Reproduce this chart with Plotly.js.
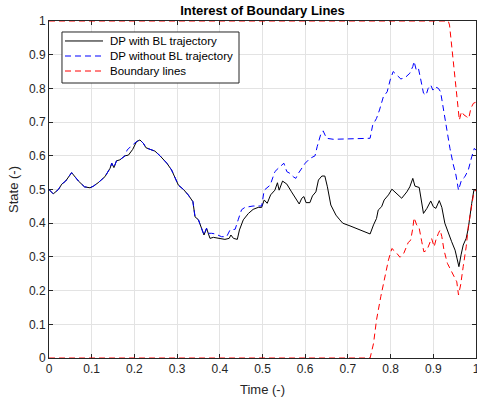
<!DOCTYPE html>
<html>
<head>
<meta charset="utf-8">
<script src="https://cdn.plot.ly/plotly-3.0.1.min.js"></script>
<style>html,body{margin:0;padding:0;background:#fff;}#chart{width:477px;height:403px;}</style>
</head>
<body>
<div id="chart"></div>
<script>
// Series: DP with BL trajectory
const timeBL = [0,0.01,0.022,0.03,0.039,0.053,0.069,0.083,0.096,0.104,0.115,0.131,0.143,0.147,0.152,0.158,0.166,0.178,0.186,0.196,0.205,0.213,0.221,0.227,0.237,0.248,0.26,0.276,0.287,0.295,0.303,0.315,0.326,0.337,0.342,0.35,0.358,0.363,0.369,0.373,0.377,0.385,0.396,0.412,0.422,0.426,0.432,0.441,0.446,0.455,0.467,0.478,0.49,0.498,0.504,0.511,0.519,0.529,0.535,0.539,0.547,0.557,0.568,0.578,0.586,0.592,0.597,0.602,0.611,0.617,0.625,0.631,0.639,0.646,0.652,0.66,0.672,0.681,0.688,0.705,0.728,0.752,0.76,0.767,0.771,0.779,0.785,0.795,0.803,0.814,0.826,0.838,0.845,0.852,0.857,0.867,0.873,0.877,0.885,0.894,0.9,0.906,0.914,0.92,0.927,0.935,0.943,0.951,0.956,0.96,0.965,0.97,0.977,0.982,0.99,0.995,1.0];
const stateBL = [0.5,0.487,0.5,0.516,0.525,0.55,0.525,0.508,0.505,0.51,0.52,0.538,0.563,0.578,0.565,0.585,0.588,0.6,0.602,0.619,0.642,0.647,0.637,0.624,0.619,0.614,0.6,0.578,0.558,0.536,0.513,0.5,0.484,0.464,0.419,0.41,0.385,0.365,0.385,0.37,0.355,0.358,0.355,0.352,0.355,0.365,0.355,0.352,0.38,0.41,0.429,0.441,0.447,0.447,0.469,0.459,0.484,0.498,0.52,0.498,0.525,0.516,0.493,0.471,0.457,0.474,0.479,0.461,0.461,0.481,0.493,0.528,0.54,0.54,0.508,0.454,0.424,0.41,0.4,0.392,0.38,0.368,0.395,0.414,0.439,0.449,0.469,0.484,0.501,0.489,0.474,0.493,0.508,0.533,0.51,0.506,0.459,0.429,0.444,0.466,0.449,0.444,0.467,0.447,0.4,0.37,0.345,0.32,0.291,0.271,0.306,0.335,0.355,0.385,0.459,0.498,0.5];

// Series: DP without BL trajectory
const timeNoBL = [0,0.01,0.022,0.03,0.039,0.053,0.069,0.083,0.096,0.104,0.115,0.131,0.143,0.147,0.152,0.158,0.166,0.178,0.183,0.19,0.205,0.213,0.221,0.227,0.237,0.248,0.26,0.276,0.287,0.295,0.303,0.315,0.326,0.337,0.342,0.35,0.358,0.363,0.369,0.373,0.381,0.39,0.404,0.416,0.424,0.436,0.443,0.451,0.459,0.478,0.498,0.504,0.518,0.522,0.529,0.537,0.545,0.55,0.557,0.564,0.572,0.578,0.584,0.592,0.6,0.611,0.623,0.628,0.636,0.642,0.65,0.666,0.752,0.758,0.767,0.774,0.783,0.792,0.799,0.806,0.814,0.824,0.834,0.845,0.852,0.855,0.86,0.865,0.87,0.877,0.883,0.888,0.894,0.899,0.904,0.912,0.917,0.923,0.931,0.939,0.947,0.953,0.959,0.966,0.974,0.982,0.99,0.996,1.0];
const stateNoBL = [0.5,0.487,0.5,0.516,0.525,0.55,0.525,0.508,0.505,0.51,0.52,0.538,0.563,0.578,0.565,0.585,0.588,0.6,0.617,0.626,0.642,0.647,0.637,0.624,0.619,0.614,0.6,0.578,0.558,0.536,0.513,0.5,0.484,0.464,0.419,0.41,0.385,0.365,0.385,0.37,0.37,0.368,0.36,0.36,0.38,0.382,0.41,0.44,0.447,0.451,0.451,0.498,0.513,0.528,0.553,0.563,0.573,0.578,0.553,0.548,0.538,0.533,0.548,0.563,0.578,0.592,0.6,0.627,0.662,0.674,0.652,0.649,0.652,0.691,0.711,0.736,0.775,0.79,0.825,0.85,0.84,0.828,0.832,0.845,0.865,0.88,0.855,0.86,0.83,0.786,0.78,0.8,0.81,0.795,0.805,0.8,0.79,0.741,0.682,0.622,0.573,0.543,0.498,0.528,0.538,0.558,0.597,0.622,0.617];

// Boundary lines
const timeLower = [0,0.752,0.76,0.767,0.777,0.787,0.795,0.803,0.813,0.822,0.831,0.841,0.847,0.852,0.855,0.861,0.867,0.873,0.878,0.885,0.891,0.896,0.902,0.906,0.912,0.916,0.92,0.925,0.933,0.941,0.948,0.955,0.959,0.964,0.97,0.977,0.982,0.988,0.994,1.0];
const lowerBound = [0,0,0.043,0.113,0.182,0.241,0.291,0.325,0.313,0.299,0.311,0.342,0.35,0.385,0.416,0.395,0.385,0.345,0.315,0.32,0.338,0.355,0.33,0.35,0.37,0.38,0.36,0.32,0.281,0.261,0.241,0.226,0.187,0.217,0.271,0.33,0.39,0.439,0.484,0.5];
const timeUpper = [0,0.935,0.938,0.943,0.948,0.955,0.961,0.966,0.972,0.978,0.983,0.988,0.994,1.0];
const upperBound = [1,1,0.988,0.929,0.869,0.79,0.706,0.731,0.721,0.716,0.711,0.741,0.756,0.759];

const ticks = [0,0.1,0.2,0.3,0.4,0.5,0.6,0.7,0.8,0.9,1];
const tickText = ['0','0.1','0.2','0.3','0.4','0.5','0.6','0.7','0.8','0.9','1'];
const seriesNames = ['DP with BL trajectory', 'DP without BL trajectory', 'Boundary lines'];
const seriesColors = ['#000000', '#0000ff', '#ff0000'];

const FONT = 'Liberation Sans, Arial, sans-serif';
const dashPat = '6px,4px';
const seriesDash = ['solid', dashPat, dashPat];

const traces = [
  {x: timeBL, y: stateBL, type: 'scatter', mode: 'lines', name: seriesNames[0],
   line: {color: seriesColors[0], width: 1}},
  {x: timeNoBL, y: stateNoBL, type: 'scatter', mode: 'lines', name: seriesNames[1],
   line: {color: seriesColors[1], width: 1, dash: dashPat}},
  {x: timeLower, y: lowerBound, type: 'scatter', mode: 'lines', name: seriesNames[2],
   line: {color: seriesColors[2], width: 1, dash: dashPat}, cliponaxis: false},
  {x: timeUpper, y: upperBound, type: 'scatter', mode: 'lines', name: seriesNames[2],
   line: {color: seriesColors[2], width: 1, dash: dashPat}, cliponaxis: false}
];

const axisCommon = {
  range: [0, 1], tickvals: ticks, ticktext: tickText,
  showline: true, linecolor: '#262626', linewidth: 1, mirror: 'ticks',
  ticks: 'inside', ticklen: 4, tickcolor: '#262626',
  showgrid: true, gridcolor: '#e3e3e3', gridwidth: 1, zeroline: false,
  tickfont: {family: FONT, size: 12, color: '#262626'},
  ticklabeloverflow: 'allow',
  layer: 'below traces'
};

// Legend box (MATLAB style) drawn in paper coordinates
const legBox = {x0: 0.0304, x1: 0.445, y0: 0.816, y1: 0.9674};
const legRowY = [0.9407, 0.8961, 0.8516];
const legLineX = [0.0375, 0.1265];
const legTextX = 0.138;

const shapes = [{type: 'rect', xref: 'paper', yref: 'paper', x0: legBox.x0, x1: legBox.x1, y0: legBox.y0, y1: legBox.y1,
  fillcolor: '#ffffff', line: {color: '#262626', width: 1}, layer: 'above'}];
const annotations = [];
seriesNames.forEach((nm, i) => {
  shapes.push({type: 'line', xref: 'paper', yref: 'paper', x0: legLineX[0], x1: legLineX[1], y0: legRowY[i], y1: legRowY[i],
    line: {color: seriesColors[i], width: 1, dash: seriesDash[i]}, layer: 'above'});
  annotations.push({xref: 'paper', yref: 'paper', x: legTextX, y: legRowY[i], xanchor: 'left', yanchor: 'middle',
    text: nm, showarrow: false, font: {family: FONT, size: 11.5, color: '#000000'}});
});

const layout = {
  width: 477, height: 403,
  margin: {l: 49, r: 1, t: 21, b: 45},
  paper_bgcolor: '#ffffff', plot_bgcolor: '#ffffff',
  font: {family: FONT, color: '#262626'},
  title: {text: '<b>Interest of Boundary Lines</b>', x: 0.5, xref: 'paper', xanchor: 'center',
          y: 0.975, yref: 'container', yanchor: 'middle',
          font: {family: FONT, size: 13, color: '#000000'}},
  xaxis: Object.assign({}, axisCommon, {title: {text: 'Time (-)', standoff: 9,
          font: {family: FONT, size: 13, color: '#262626'}}}),
  yaxis: Object.assign({}, axisCommon, {title: {text: 'State (-)', standoff: 7,
          font: {family: FONT, size: 13, color: '#262626'}}}),
  showlegend: false,
  shapes: shapes,
  annotations: annotations
};

Plotly.newPlot('chart', traces, layout, {staticPlot: true, displayModeBar: false});
</script>
</body>
</html>
